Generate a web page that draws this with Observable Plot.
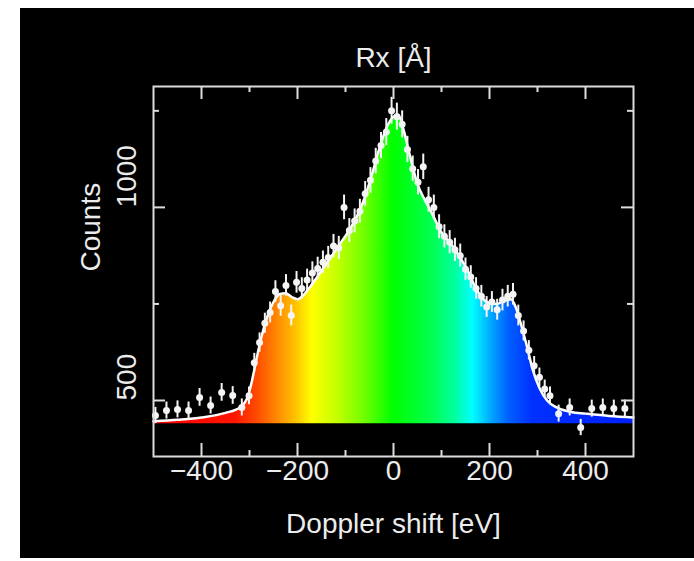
<!DOCTYPE html>
<html><head><meta charset="utf-8">
<script src="https://cdn.jsdelivr.net/npm/d3@7"></script>
<script src="https://cdn.jsdelivr.net/npm/@observablehq/plot@0.6"></script>
<style>
html,body{margin:0;padding:0;background:#fff;width:694px;height:561px;overflow:hidden;}
#panel{position:absolute;left:20px;top:8px;width:674px;height:550px;background:#000;}
#chart{position:absolute;left:0;top:0;}
</style></head><body><div id="panel"></div><div id="chart"></div>
<script>
// Smooth model curve (Doppler shift eV, counts)
const modelX = [-500,-450,-400,-350,-320,-305,-295,-285,-275,-262,-250,-238,-225,-212,-200,-188,-175,-160,-145,-130,-110,-90,-75,-60,-45,-30,-15,0,10,20,35,50,65,80,100,120,140,155,170,185,200,215,230,245,255,265,278,290,305,320,340,370,400,450,500];
const modelY = [446,450,456,468,482,505,550,610,665,720,755,775,778,768,762,772,792,818,845,872,908,945,980,1025,1085,1150,1205,1235,1240,1205,1130,1060,1020,985,935,905,868,835,795,765,752,750,758,762,740,700,640,580,530,500,482,470,466,460,456];
const fillBase = 440;

// Measured data points with error bars
const dataX = [-496,-473,-450,-427,-404,-381,-358,-335,-316,
  -301,-290,-279,-268,-257,-246,-235,-224,-213,-202,-191,-180,-169,-158,-147,-136,-125,-114,-103,-92,-81,-70,-59,-48,-37,-26,-15,-4,7,18,29,40,51,62,73,84,95,106,117,128,139,150,161,172,183,194,205,216,227,238,249,260,271,282,293,304,315,326,
  344,367,390,413,436,459,482];
const dataY = [461,474,477,474,508,487,521,513,482,
  512,598,650,700,728,782,745,798,720,806,790,812,830,842,858,870,900,895,1000,940,965,990,1035,1070,1120,1160,1195,1250,1235,1215,1150,1100,1065,1105,1020,1000,950,925,910,890,875,840,820,790,770,742,755,735,760,770,775,720,680,630,590,560,530,512,
  466,482,430,479,482,479,479];
const dataErr = [21,22,22,22,23,22,23,23,22,
  23,24,25,26,27,28,27,28,27,28,28,28,29,29,29,29,30,30,32,31,31,31,32,33,33,34,35,35,35,35,34,33,33,33,32,32,31,30,30,30,30,29,29,28,28,27,27,27,28,28,28,27,26,25,24,24,23,23,
  22,22,21,22,22,22,22];

// Rainbow fill stops
const gradValues = [-500,-330,-280,-240,-200,-170,-120,-60,0,80,130,165,200,240,290,500];
const gradColors = ["#ff0000","#ff1500","#ff5000","#ff8c00","#ffc800","#ffff00","#c8ff00","#70ff00","#00ff00","#00ff50","#00ffa0","#00ffff","#00b0ff","#0060ff","#0030ff","#0020ff"];

// Axes
const xDomain = [-500, 500];
const yDomain = [355, 1313];
const xMajorTicks = [-400,-200,0,200,400];
const xMinorTicks = [-300,-100,100,300];
const yMajorTicks = [500,1000];
const yMinorTicks = [750,1250];
const title = "Rx [Å]";
const xLabel = "Doppler shift [eV]";
const yLabel = "Counts";

const model = modelX.map((x,i)=>({x, y: modelY[i]}));
const points = dataX.map((x,i)=>({x, y: dataY[i], e: dataErr[i]}));

function gradientDefs(index, scales) {
  const ns = "http://www.w3.org/2000/svg";
  const defs = document.createElementNS(ns, "defs");
  const lg = document.createElementNS(ns, "linearGradient");
  lg.setAttribute("id", "rainbowFill");
  lg.setAttribute("gradientUnits", "userSpaceOnUse");
  const x1 = scales.x(xDomain[0]), x2 = scales.x(xDomain[1]);
  lg.setAttribute("x1", x1); lg.setAttribute("x2", x2);
  lg.setAttribute("y1", 0); lg.setAttribute("y2", 0);
  gradValues.forEach((v,i)=>{
    const s = document.createElementNS(ns, "stop");
    s.setAttribute("offset", (scales.x(v)-x1)/(x2-x1));
    s.setAttribute("stop-color", gradColors[i]);
    lg.appendChild(s);
  });
  defs.appendChild(lg);
  return defs;
}

const fmt = d3.format("");
const axisColor = "#dcdcdc";
const textColor = "#ececec";
const fs = 28;

const chart = Plot.plot({
  width: 694, height: 561,
  marginLeft: 153, marginRight: 61, marginTop: 86, marginBottom: 105,
  style: {background: "transparent", color: textColor, fontFamily: "'Liberation Sans', Arial, sans-serif"},
  x: {domain: xDomain, axis: null},
  y: {domain: yDomain, axis: null},
  marks: [
    gradientDefs,
    Plot.areaY(model, {x: "x", y1: fillBase, y2: "y", fill: "url(#rainbowFill)", curve: "monotone-x"}),
    Plot.line(model, {x: "x", y: "y", stroke: "#fff", strokeWidth: 2.5, curve: "monotone-x"}),
    Plot.ruleX(points, {x: "x", y1: d => d.y - d.e, y2: d => d.y + d.e, stroke: "#f4f4f4", strokeWidth: 2}),
    Plot.dot(points, {x: "x", y: "y", r: 3.5, fill: "#f4f4f4", stroke: "none"}),
    Plot.frame({stroke: axisColor, strokeWidth: 2}),
    // x ticks (bottom & top, inward)
    Plot.tickX(xMajorTicks, {x: d => d, stroke: axisColor, strokeWidth: 2, insetTop: 357}),
    Plot.tickX(xMajorTicks, {x: d => d, stroke: axisColor, strokeWidth: 2, insetBottom: 357}),
    Plot.tickX(xMinorTicks, {x: d => d, stroke: axisColor, strokeWidth: 2, insetTop: 364}),
    Plot.tickX(xMinorTicks, {x: d => d, stroke: axisColor, strokeWidth: 2, insetBottom: 364}),
    // y ticks (left & right, inward)
    Plot.tickY(yMajorTicks, {y: d => d, stroke: axisColor, strokeWidth: 2, insetRight: 468}),
    Plot.tickY(yMajorTicks, {y: d => d, stroke: axisColor, strokeWidth: 2, insetLeft: 468}),
    Plot.tickY(yMinorTicks, {y: d => d, stroke: axisColor, strokeWidth: 2, insetRight: 474}),
    Plot.tickY(yMinorTicks, {y: d => d, stroke: axisColor, strokeWidth: 2, insetLeft: 474}),
    // tick labels
    Plot.text(xMajorTicks, {x: d => d, text: d => fmt(d), frameAnchor: "bottom", dy: 23, fontSize: fs, fill: textColor}),
    Plot.text(yMajorTicks, {y: d => d, text: d => fmt(d), frameAnchor: "left", dx: -26, rotate: -90, fontSize: fs, fill: textColor}),
    // titles
    Plot.text([title], {text: d => d, frameAnchor: "top", dy: -39, fontSize: fs, fill: textColor}),
    Plot.text([xLabel], {text: d => d, frameAnchor: "bottom", dy: 76, fontSize: fs, fill: textColor}),
    Plot.text([yLabel], {text: d => d, frameAnchor: "left", dx: -62, rotate: -90, fontSize: fs, fill: textColor})
  ]
});
document.getElementById("chart").appendChild(chart);
</script>
</body></html>
